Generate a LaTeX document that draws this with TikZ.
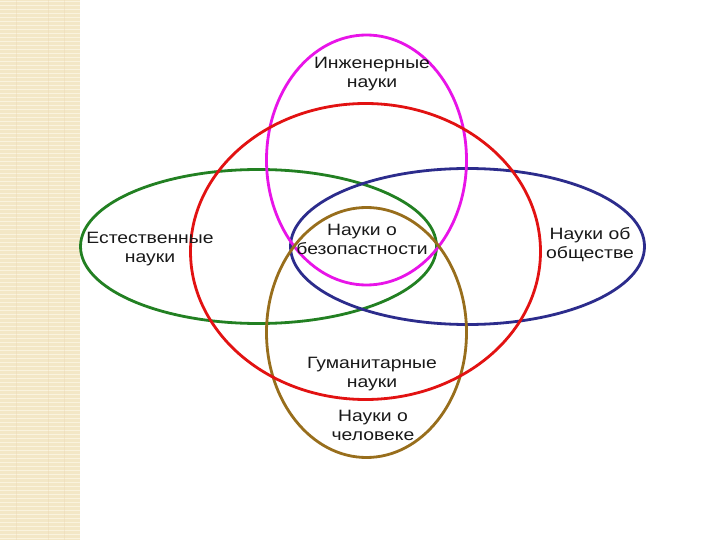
\documentclass[tikz,border=0pt]{standalone}
\usepackage{fontspec}
\setmainfont{Liberation Sans}[FakeStretch=1.18]
\definecolor{stripbg}{RGB}{243,231,198}
\definecolor{stripln}{RGB}{250,243,222}
\definecolor{cmag}{RGB}{232,20,232}
\definecolor{cred}{RGB}{226,18,18}
\definecolor{cgreen}{RGB}{34,128,34}
\definecolor{cblue}{RGB}{44,44,140}
\definecolor{cbrown}{RGB}{152,110,28}
\begin{document}
\begin{tikzpicture}[x=1pt,y=-1pt,
  ring/.style={line width=2.8pt},
  lbl/.style={align=center,font=\fontsize{16.4}{19}\selectfont,inner sep=0pt,text=black!90}]
\useasboundingbox (0,0) rectangle (720,540);
\fill[white] (0,0) rectangle (720,540);
\fill[stripbg] (0,0) rectangle (80,540);
\foreach \yy in {2,6,...,538} {\draw[stripln,line width=1pt] (0,\yy) -- (80,\yy);}
\foreach \xx in {16,48,64} {\draw[stripbg!85!brown,line width=0.6pt,opacity=0.4] (\xx,0) -- (\xx,540);}
% ellipses
\draw[ring,cgreen] (258.5,246.5) ellipse [x radius=178, y radius=77];
\draw[ring,cblue] (467.5,246.5) ellipse [x radius=177, y radius=78];
\draw[ring,cmag] (366.5,160) ellipse [x radius=100, y radius=125];
\draw[ring,cbrown] (366.5,332.5) ellipse [x radius=100, y radius=125];
\draw[ring,cred] (365.5,251.5) ellipse [x radius=175, y radius=148];
% labels
\node[lbl] (ing) at (372,74) {Инженерные\\науки};
\node[lbl] (est) at (150,249) {Естественные\\науки};
\node[lbl] (bez) at (362,239) {Науки о\\безопастности};
\node[lbl] (obs) at (590,245) {Науки об\\обществе};
\node[lbl] (gum) at (372,374) {Гуманитарные\\науки};
\node[lbl] (chel) at (373,425) {Науки о\\человеке};
\end{tikzpicture}
\end{document}
